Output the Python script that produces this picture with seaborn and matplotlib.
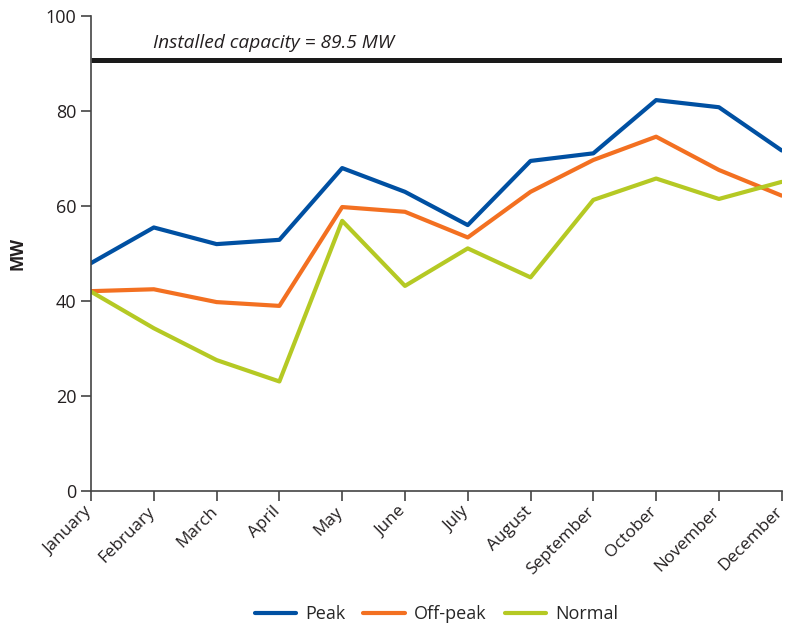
import pandas as pd
import matplotlib.pyplot as plt
import matplotlib.transforms as mtransforms
import seaborn as sns

# Monthly demand (MW)
months = ["January", "February", "March", "April", "May", "June", "July",
          "August", "September", "October", "November", "December"]
peak = [48.0, 55.5, 52.0, 52.9, 68.0, 63.0, 56.0, 69.5, 71.1, 82.3, 80.8, 71.7]
off_peak = [42.1, 42.5, 39.8, 39.0, 59.8, 58.8, 53.4, 63.0, 69.7, 74.6, 67.6, 62.2]
normal = [42.0, 34.3, 27.6, 23.1, 56.9, 43.2, 51.1, 45.0, 61.3, 65.8, 61.5, 65.1]
capacity = 90.7
capacity_label = "Installed capacity = 89.5 MW"

series_names = ["Peak", "Off-peak", "Normal"]
colors = ["#0050a2", "#f37021", "#b5c924"]

df = pd.DataFrame({"month": months, "Peak": peak, "Off-peak": off_peak, "Normal": normal})
df_long = df.melt(id_vars="month", var_name="series", value_name="MW")

sns.set_style("ticks")
plt.rcParams["font.family"] = ["Open Sans", "DejaVu Sans"]

fig = plt.figure(figsize=(7.88, 6.29), dpi=100)
ax = fig.add_axes([0.1155, 0.219, 0.8765, 0.7556])

sns.lineplot(data=df_long, x="month", y="MW", hue="series", hue_order=series_names,
             palette=colors, linewidth=3.0, ax=ax, sort=False)

# installed capacity line
ax.plot([months[0], months[-1]], [capacity, capacity], color="#1a1a1a", linewidth=3.6,
        solid_capstyle="butt")
ax.text(0.99, 93.3, capacity_label, style="italic", fontsize=13.8, color="#231f20",
        ha="left", va="baseline")

ax.set_xlim(0, len(months) - 1)
ax.set_ylim(0, 100)
ax.set_yticks([0, 20, 40, 60, 80, 100])
ax.set_xlabel("")
ax.set_ylabel("MW", fontsize=12.5, fontweight="bold", color="#231f20", labelpad=14)

for s in ["top", "right"]:
    ax.spines[s].set_visible(False)
for s in ["left", "bottom"]:
    ax.spines[s].set_color("#444444")
    ax.spines[s].set_linewidth(1.2)
ax.tick_params(axis="both", length=7, width=1.2, color="#444444", labelsize=13,
               labelcolor="#231f20")
ax.tick_params(axis="x", pad=2, labelsize=12.3)
# nudge rotated month labels a little left so "December" stays inside the figure
shift = mtransforms.ScaledTranslation(-7 / 100, 0, fig.dpi_scale_trans)
for lab in ax.get_xticklabels():
    lab.set_rotation(45)
    lab.set_ha("right")
    lab.set_rotation_mode("anchor")
    lab.set_transform(lab.get_transform() + shift)

handles, labels = ax.get_legend_handles_labels()
ax.legend(handles[:3], labels[:3], loc="upper center", bbox_to_anchor=(0.5, -0.205),
          ncol=3, frameon=False, fontsize=13, handlelength=2.3, handletextpad=0.5,
          columnspacing=1.0)

fig.savefig("out.png", dpi=100)
